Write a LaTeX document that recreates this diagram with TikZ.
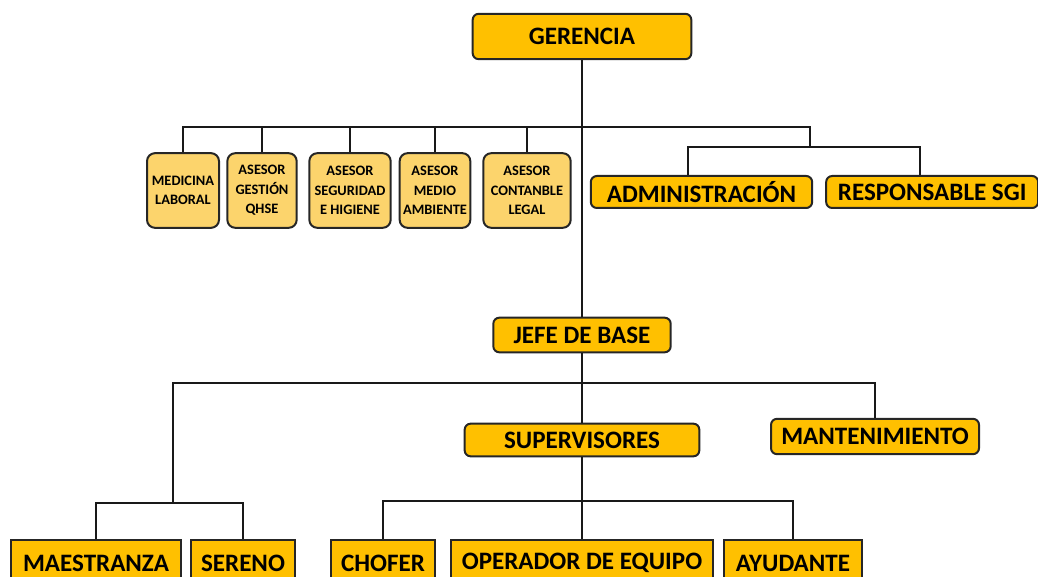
\documentclass[tikz,border=0pt]{standalone}
\usepackage{fontspec}
\setmainfont{Carlito}
\usepackage{tikz}
\usetikzlibrary{positioning}
\definecolor{gold}{HTML}{FFC000}
\definecolor{lightgold}{HTML}{FCD46C}

\begin{document}
\begin{tikzpicture}[x=0.75pt,y=-0.75pt]
\tikzstyle{main}=[rectangle, rounded corners=4.5pt, draw=black!85, line width=1.5pt, fill=gold, inner sep=0pt, font=\bfseries\fontsize{18.8}{22}\selectfont]
\tikzstyle{staff}=[main, rounded corners=6pt, fill=lightgold, align=center, minimum height=56pt, font=\bfseries\fontsize{10.8}{14.5}\selectfont]
\tikzstyle{crew}=[main, sharp corners, minimum height=34pt]
\tikzstyle{connect}=[line width=1.5pt, black!90]
\useasboundingbox (0,0) rectangle (1038,577);
\node[main, minimum width=164pt, minimum height=34pt] (Gerencia) at (582,36.5) {GERENCIA};
\node[staff, minimum width=54pt] (Medicina) at (183,190.5) {MEDICINA\\LABORAL};
\node[staff, minimum width=52pt] (Qhse) at (262,190.5) {ASESOR\\GESTIÓN\\QHSE};
\node[staff, minimum width=61pt] (Seguridad) at (350,190.5) {ASESOR\\SEGURIDAD\\E HIGIENE};
\node[staff, minimum width=53pt] (Ambiente) at (435,190.5) {ASESOR\\MEDIO\\AMBIENTE};
\node[staff, minimum width=65.5pt] (Contable) at (527,190.5) {ASESOR\\CONTANBLE\\LEGAL};
\node[main, minimum width=166pt, minimum height=24pt] (Admin) at (701.5,192) {ADMINISTRACIÓN};
\node[main, minimum width=159pt, minimum height=24pt] (Resp) [right=9pt of Admin] {RESPONSABLE SGI};
\node[main, minimum width=133pt, minimum height=26pt] (Jefe) at (582,335) {JEFE DE BASE};
\node[main, minimum width=176pt, minimum height=24.5pt] (Superv) at (582,440) {SUPERVISORES};
\node[main, minimum width=156pt, minimum height=26.5pt] (Mant) at (875,436.5) {MANTENIMIENTO};
\node[crew, minimum width=128pt] (Maestranza) at (96,563) {MAESTRANZA};
\node[crew, minimum width=78pt] (Sereno) at (243,563) {SERENO};
\node[crew, minimum width=78pt] (Chofer) at (383,563) {CHOFER};
\node[crew, minimum width=197pt] (Operador) at (582,563) {OPERADOR DE EQUIPO};
\node[crew, minimum width=103pt] (Ayudante) at (793,563) {AYUDANTE};
\coordinate (staffEnd) at (810,127);
\coordinate (adminJoin) at (810,147);
\coordinate (adminL) at (688,147);
\coordinate (respR) at (920,147);
\coordinate (opsL) at (173,383);
\coordinate (baseL) at (173,503);
\coordinate (baseBus) at (0,503);
\coordinate (supBus) at (0,501);
  \draw[connect] (Gerencia.south) -- (Jefe.north);
  \draw[connect] (Medicina.north) |- (staffEnd) -- (adminJoin);
  \foreach \n in {Qhse,Seguridad,Ambiente,Contable}
    \draw[connect] (\n.north) -- (\n.north |- staffEnd);
  \draw[connect] (Admin.north -| adminL) |- (respR) -- (respR |- Resp.north);
  \draw[connect] (Jefe.south) -- (Superv.north);
  \draw[connect] (Mant.north) |- (opsL) -- (baseL);
  \draw[connect] (Maestranza.north) |- (Sereno.north |- baseBus) -- (Sereno.north);
  \draw[connect] (Superv.south) -- (Operador.north);
  \draw[connect] (Chofer.north) |- (Ayudante.north |- supBus) -- (Ayudante.north);
\end{tikzpicture}
\end{document}
